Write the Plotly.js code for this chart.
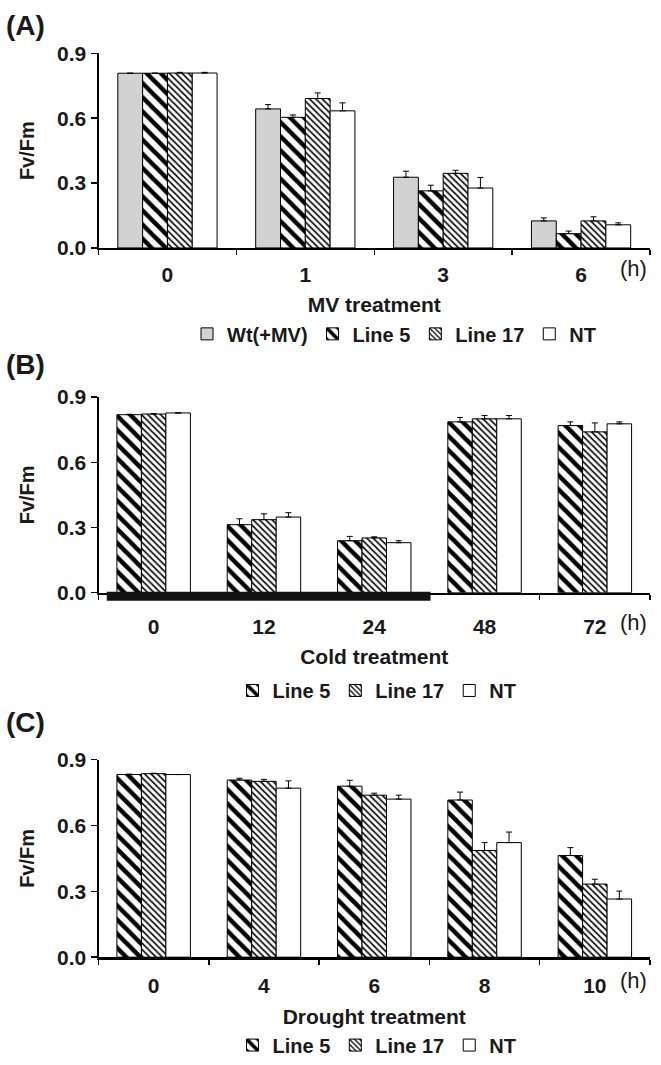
<!DOCTYPE html>
<html><head><meta charset="utf-8">
<script src="https://cdn.plot.ly/plotly-3.0.1.min.js"></script>
<style>html,body{margin:0;padding:0;background:#fff}#chart{width:661px;height:1065px}</style>
</head><body><div id="chart"></div>
<script>
// ---------- Data ----------
const panelLabels = ['(A)', '(B)', '(C)'];
const axisTitles = ['MV treatment', 'Cold treatment', 'Drought treatment'];
const yTitle = 'Fv/Fm';
const unitLabel = '(h)';

// Panel A: MV treatment
const catsA = ['0', '1', '3', '6'];
const namesA = ['Wt(+MV)', 'Line 5', 'Line 17', 'NT'];
const wtA      = [0.808, 0.643, 0.327, 0.125];
const line5A   = [0.808, 0.604, 0.264, 0.066];
const line17A  = [0.809, 0.691, 0.345, 0.125];
const ntA      = [0.809, 0.634, 0.277, 0.107];
const wtAErr     = [0.000, 0.020, 0.028, 0.014];
const line5AErr  = [0.000, 0.011, 0.026, 0.012];
const line17AErr = [0.003, 0.026, 0.014, 0.019];
const ntAErr     = [0.003, 0.037, 0.049, 0.009];

// Panel B: Cold treatment
const catsB = ['0', '12', '24', '48', '72'];
const namesBC = ['Line 5', 'Line 17', 'NT'];
const line5B   = [0.819, 0.313, 0.239, 0.786, 0.769];
const line17B  = [0.822, 0.336, 0.252, 0.800, 0.740];
const ntB      = [0.827, 0.348, 0.230, 0.800, 0.777];
const line5BErr  = [0.002, 0.027, 0.020, 0.020, 0.017];
const line17BErr = [0.002, 0.027, 0.005, 0.015, 0.041];
const ntBErr     = [0.000, 0.020, 0.009, 0.015, 0.009];
// cold exposure period marker (category-index units, from / to)
const coldPeriod = [-0.425, 2.51];

// Panel C: Drought treatment
const catsC = ['0', '4', '6', '8', '10'];
const line5C   = [0.832, 0.807, 0.779, 0.716, 0.463];
const line17C  = [0.836, 0.801, 0.738, 0.486, 0.333];
const ntC      = [0.832, 0.770, 0.720, 0.522, 0.265];
const line5CErr  = [0.002, 0.008, 0.027, 0.036, 0.036];
const line17CErr = [0.002, 0.009, 0.009, 0.036, 0.022];
const ntCErr     = [0.000, 0.033, 0.018, 0.048, 0.036];

// ---------- Styles ----------
const FONT = 'Liberation Sans, Arial, Helvetica, sans-serif';
const styles = {
  'Wt(+MV)': {color: '#d2d2d2', pattern: {shape: ''}},
  'Line 5':  {color: '#ffffff', pattern: {shape: '\\', size: 10, solidity: 0.45, fgcolor: '#000', bgcolor: '#fff', fillmode: 'replace'}},
  'Line 17': {color: '#ffffff', pattern: {shape: '\\', size: 4.5, solidity: 0.35, fgcolor: '#000', bgcolor: '#fff', fillmode: 'replace'}},
  'NT':      {color: '#ffffff', pattern: {shape: ''}}
};

function barTrace(name, cats, vals, errs, xa, ya, legend, width, offset) {
  const st = styles[name];
  return {
    type: 'bar', name: name, x: cats, y: vals,
    xaxis: xa, yaxis: ya, legend: legend,
    width: width, offset: offset,
    marker: {color: st.color, pattern: st.pattern, line: {color: '#000', width: 1}},
    error_y: {type: 'data', array: errs, arrayminus: errs.map(() => 0), symmetric: false,
              color: '#000', thickness: 1, width: 3},
    hoverinfo: 'x+y'
  };
}

const wA = 0.18, wBC = 0.222;
const data = [
  barTrace('Wt(+MV)', catsA, wtA, wtAErr, 'x', 'y', 'legend', wA, -2 * wA),
  barTrace('Line 5', catsA, line5A, line5AErr, 'x', 'y', 'legend', wA, -wA),
  barTrace('Line 17', catsA, line17A, line17AErr, 'x', 'y', 'legend', wA, 0),
  barTrace('NT', catsA, ntA, ntAErr, 'x', 'y', 'legend', wA, wA),

  barTrace('Line 5', catsB, line5B, line5BErr, 'x2', 'y2', 'legend2', wBC, -1.5 * wBC),
  barTrace('Line 17', catsB, line17B, line17BErr, 'x2', 'y2', 'legend2', wBC, -0.5 * wBC),
  barTrace('NT', catsB, ntB, ntBErr, 'x2', 'y2', 'legend2', wBC, 0.5 * wBC),

  barTrace('Line 5', catsC, line5C, line5CErr, 'x3', 'y3', 'legend3', wBC, -1.5 * wBC),
  barTrace('Line 17', catsC, line17C, line17CErr, 'x3', 'y3', 'legend3', wBC, -0.5 * wBC),
  barTrace('NT', catsC, ntC, ntCErr, 'x3', 'y3', 'legend3', wBC, 0.5 * wBC)
];

const H = 1065, W = 661;
const xDom = [98.5 / W, 650 / W];
// plot area pixel tops/bottoms
const panelsPx = [[54, 251], [402, 600], [769, 969]];
const yDoms = panelsPx.map(p => [1 - p[1] / H, 1 - p[0] / H]);

function xAxis(anchor, title, standoff, lblStandoff) {
  return {
    domain: xDom, anchor: anchor, type: 'category',
    showline: true, linecolor: '#000', linewidth: 2.5,
    ticks: 'outside', tickson: 'boundaries', ticklen: 5, tickwidth: 1.5, tickcolor: '#000',
    ticklabelstandoff: lblStandoff,
    tickfont: {family: FONT, size: 21, color: '#1a1a1a', weight: 'bold'},
    showgrid: false, zeroline: false, fixedrange: true,
    title: {text: title, font: {family: FONT, size: 21, color: '#1a1a1a', weight: 'bold'}, standoff: standoff}
  };
}
function yAxis(anchor, dom) {
  return {
    domain: dom, anchor: anchor, range: [0, 0.9], tick0: 0, dtick: 0.3, tickformat: '.1f',
    showline: true, linecolor: '#000', linewidth: 2,
    ticks: 'outside', ticklen: 6, tickwidth: 1.5, tickcolor: '#000',
    tickfont: {family: FONT, size: 21, color: '#1a1a1a', weight: 'bold'},
    showgrid: false, zeroline: false, fixedrange: true,
    title: {text: yTitle, font: {family: FONT, size: 20, color: '#1a1a1a', weight: 'bold'}, standoff: 17}
  };
}

function legendAt(x, yPx, width) {
  return {
    orientation: 'h', x: x, xanchor: 'center', y: 1 - yPx / H, yanchor: 'middle',
    font: {family: FONT, size: 20, color: '#1a1a1a', weight: 'bold'},
    bgcolor: 'rgba(0,0,0,0)', borderwidth: 0, itemwidth: 30,
    entrywidth: width, traceorder: 'normal', itemclick: false, itemdoubleclick: false
  };
}

const annotations = [];
panelLabels.forEach((t, i) => {
  const topPx = [26, 369, 731][i];
  annotations.push({text: '<b>' + t + '</b>', xref: 'paper', yref: 'paper', x: 4 / W, xanchor: 'left',
    y: 1 - topPx / H, yanchor: 'middle', showarrow: false,
    font: {family: FONT, size: 28, color: '#1a1a1a'}});
});
const hLabelPx = [272, 630, 993];
hLabelPx.forEach(py => {
  annotations.push({text: unitLabel, xref: 'paper', yref: 'paper', x: 633 / W, xanchor: 'center',
    y: 1 - py / H, yanchor: 'middle', showarrow: false,
    font: {family: FONT, size: 22, color: '#1a1a1a'}});
});

const layout = {
  width: W, height: H, margin: {l: 0, r: 0, t: 0, b: 0},
  paper_bgcolor: '#fff', plot_bgcolor: '#fff',
  barmode: 'overlay', showlegend: true,
  xaxis: xAxis('y', axisTitles[0], 13, 6),
  yaxis: yAxis('x', yDoms[0]),
  xaxis2: xAxis('y2', axisTitles[1], 12, 14),
  yaxis2: yAxis('x2', yDoms[1]),
  xaxis3: xAxis('y3', axisTitles[2], 14, 8),
  yaxis3: yAxis('x3', yDoms[2]),
  legend: legendAt(394 / W, 338, 0),
  legend2: legendAt(377 / W, 699, 0),
  legend3: legendAt(377 / W, 1058, 0),
  annotations: annotations,
  shapes: [{
    type: 'rect', xref: 'x2', yref: 'paper', x0: coldPeriod[0], x1: coldPeriod[1],
    ysizemode: 'pixel', yanchor: yDoms[1][0], y0: 1, y1: -8,
    fillcolor: '#111', line: {width: 0}, layer: 'above'
  }]
};

Plotly.newPlot('chart', data, layout, {staticPlot: true, displayModeBar: false});
</script>
</body></html>
